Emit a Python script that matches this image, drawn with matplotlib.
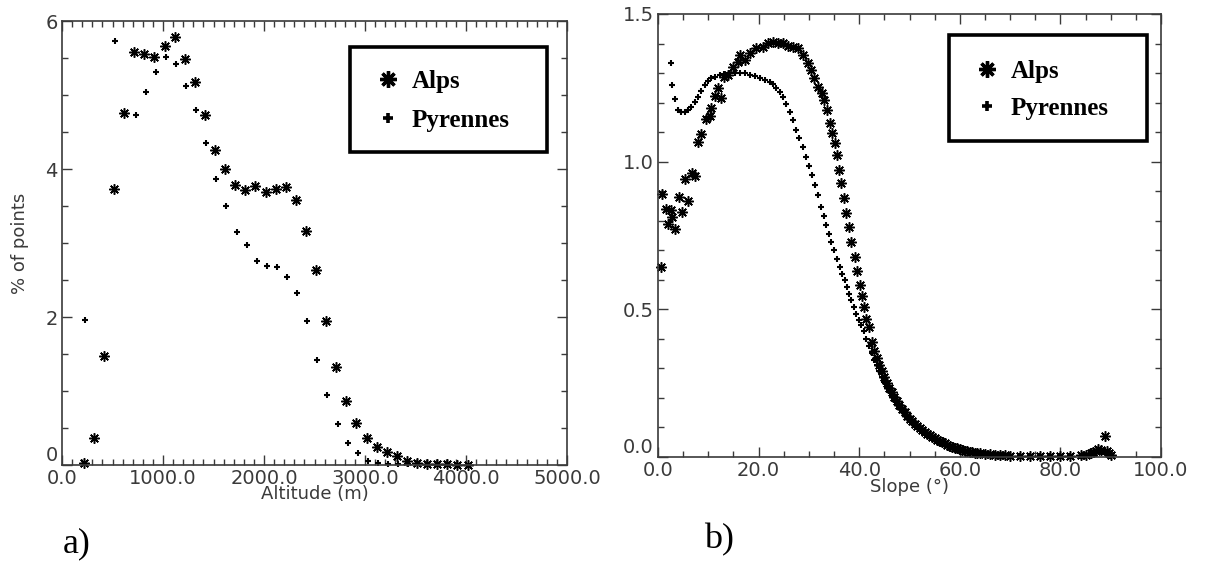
import matplotlib
matplotlib.use("Agg")
import matplotlib.pyplot as plt
from matplotlib.patches import Rectangle
from matplotlib.ticker import MultipleLocator, FormatStrFormatter

# a) altitude distribution (% of points)
alps_alt = [215, 315, 415, 515, 615, 715, 815, 915, 1015, 1115, 1215, 1315, 1415,
            1515, 1615, 1715, 1815, 1915, 2015, 2115, 2215, 2315, 2415, 2515, 2615,
            2715, 2815, 2915, 3015, 3115, 3215, 3315, 3415, 3515, 3615, 3715, 3815,
            3915, 4015]
alps_alt_pct = [0.03, 0.37, 1.48, 3.73, 4.76, 5.58, 5.56, 5.52, 5.66, 5.79, 5.49, 5.17,
                4.73, 4.26, 4.00, 3.79, 3.71, 3.77, 3.69, 3.73, 3.76, 3.58, 3.16, 2.63,
                1.95, 1.33, 0.87, 0.57, 0.37, 0.25, 0.18, 0.12, 0.05, 0.03, 0.02, 0.01,
                0.01, 0.005, 0.003]
pyr_alt = [228, 528, 728, 828, 928, 1028, 1128, 1228, 1328, 1428, 1528, 1628, 1728,
           1828, 1928, 2028, 2128, 2228, 2328, 2428, 2528, 2628, 2728, 2828, 2928,
           3028, 3128, 3228, 3328, 3428]
pyr_alt_pct = [1.96, 5.73, 4.73, 5.04, 5.31, 5.51, 5.42, 5.12, 4.80, 4.35, 3.86, 3.50,
               3.15, 2.98, 2.76, 2.69, 2.67, 2.54, 2.32, 1.94, 1.42, 0.95, 0.55, 0.30,
               0.16, 0.06, 0.03, 0.02, 0.01, 0.01]

# b) slope distribution
alps_slope = [0.66, 0.86, 1.66, 2.0, 2.5, 2.8, 3.3, 4.2, 4.8, 5.3, 6.0, 6.8, 7.3, 7.9,
              8.6, 9.6, 10.3, 10.6, 11.3, 11.9, 12.6, 13.2, 13.9, 14.9, 15.9, 16.2,
              17.2, 18.2, 19.5, 20.9, 21.9, 22.8, 23.8, 24.8, 25.8, 26.8, 27.8, 28.8,
              29.8, 30.5, 31.1, 31.8, 32.5, 33.0, 33.6, 34.2, 34.6, 35.2, 35.6, 36.0,
              36.4, 36.9, 37.4, 37.9, 38.3, 39.1, 39.5, 40.1, 40.6, 40.9, 41.4, 41.9,
              42.5, 43.0, 43.5, 44.0, 44.5, 45.0, 45.5, 46.0, 46.5, 47.0, 47.5, 48.0,
              48.5, 49.0, 49.5, 50.0, 50.5, 51.0, 51.5, 52.0, 52.5, 53.0, 53.5, 54.0,
              54.5, 55.0, 55.5, 56.0, 56.5, 57.0, 57.5, 58.0, 58.5, 59.0, 59.5, 60.0,
              60.5, 61.0, 61.5, 62.0, 62.5, 63.0, 63.5, 64.0, 65, 66, 67, 68, 69, 70,
              72, 74, 76, 78, 80, 82, 84, 85, 86, 86.5, 87, 87.5, 88, 88.8, 89.2,
              89.6, 90]
alps_slope_pct = [0.644, 0.890, 0.841, 0.790, 0.838, 0.813, 0.773, 0.881, 0.830, 0.941,
                  0.866, 0.963, 0.951, 1.067, 1.093, 1.146, 1.154, 1.180, 1.222, 1.248,
                  1.214, 1.288, 1.293, 1.321, 1.338, 1.361, 1.344, 1.367, 1.384, 1.389,
                  1.401, 1.406, 1.403, 1.403, 1.392, 1.387, 1.384, 1.361, 1.333, 1.310,
                  1.282, 1.254, 1.231, 1.208, 1.175, 1.132, 1.098, 1.064, 1.022, 0.973,
                  0.928, 0.877, 0.827, 0.779, 0.728, 0.677, 0.630, 0.581, 0.544, 0.508,
                  0.468, 0.440, 0.390, 0.360, 0.335, 0.312, 0.290, 0.270, 0.252, 0.235,
                  0.219, 0.204, 0.190, 0.176, 0.163, 0.151, 0.140, 0.130, 0.121, 0.113,
                  0.105, 0.098, 0.091, 0.085, 0.079, 0.073, 0.068, 0.063, 0.058, 0.054,
                  0.050, 0.046, 0.042, 0.038, 0.035, 0.032, 0.029, 0.026, 0.024, 0.022,
                  0.020, 0.018, 0.016, 0.015, 0.013, 0.012, 0.010, 0.009, 0.008, 0.007,
                  0.006, 0.005, 0.004, 0.004, 0.004, 0.004, 0.004, 0.005, 0.006, 0.008,
                  0.012, 0.018, 0.022, 0.026, 0.024, 0.070, 0.020, 0.012, 0.006]
pyr_slope = [2.5, 2.8, 3.4, 4.0, 4.6, 5.3, 6.0, 6.6, 7.3, 7.9, 8.6, 9.3, 9.9, 10.6,
             11.3, 12.3, 13.2, 14.2, 15.2, 16.2, 17.2, 18.2, 19.2, 20.2, 21.2, 22.2,
             22.8, 23.5, 24.2, 24.8, 25.5, 26.2, 26.8, 27.5, 28.1, 28.8, 29.5, 30.1,
             30.7, 31.3, 31.8, 32.3, 32.9, 33.4, 34.0, 34.4, 35.0, 35.6, 36.1, 36.6,
             37.1, 37.5, 37.9, 38.4, 38.9, 39.4, 39.9, 40.4, 40.9, 41.4, 42.0, 42.5,
             43.0, 43.5, 44.0, 44.5, 45.0, 45.5, 46.0, 46.5, 47.0, 47.5, 48.0, 48.5,
             49.0, 49.5, 50.0, 50.5, 51.0, 51.5, 52.0, 52.5, 53.0, 53.5, 54.0, 54.5,
             55.0, 55.5, 56.0, 56.5, 57.0, 57.5, 58.0, 58.5, 59.0, 59.5, 60.0, 61, 62,
             63, 64, 65, 66, 67, 68, 70, 72, 74, 76, 78, 80, 82, 84, 86, 87, 88, 88.5,
             89, 89.5, 90]
pyr_slope_pct = [1.333, 1.259, 1.211, 1.175, 1.169, 1.169, 1.175, 1.186, 1.203, 1.220,
                 1.239, 1.259, 1.274, 1.282, 1.288, 1.293, 1.297, 1.299, 1.301, 1.301,
                 1.299, 1.295, 1.291, 1.284, 1.276, 1.271, 1.263, 1.251, 1.237, 1.220,
                 1.195, 1.169, 1.141, 1.107, 1.079, 1.050, 1.016, 0.985, 0.954, 0.920,
                 0.886, 0.847, 0.815, 0.785, 0.756, 0.728, 0.700, 0.672, 0.643, 0.621,
                 0.598, 0.576, 0.553, 0.531, 0.508, 0.485, 0.463, 0.446, 0.425, 0.400,
                 0.375, 0.352, 0.330, 0.310, 0.290, 0.272, 0.255, 0.238, 0.222, 0.207,
                 0.193, 0.180, 0.168, 0.156, 0.145, 0.135, 0.125, 0.116, 0.108, 0.100,
                 0.093, 0.086, 0.080, 0.074, 0.069, 0.064, 0.059, 0.055, 0.051, 0.047,
                 0.043, 0.040, 0.036, 0.033, 0.030, 0.028, 0.025, 0.021, 0.017, 0.014,
                 0.011, 0.009, 0.008, 0.007, 0.006, 0.005, 0.004, 0.003, 0.003, 0.003,
                 0.003, 0.004, 0.005, 0.009, 0.015, 0.020, 0.018, 0.012, 0.008, 0.004]

INK = "#3a3a3a"
STAR = (8, 2, 0)


def style_axes(ax, xmaj, xmin, ymaj, ymin, xfmt, yfmt):
    for s in ax.spines.values():
        s.set_color(INK)
        s.set_linewidth(1.2)
    ax.xaxis.set_major_locator(MultipleLocator(xmaj))
    ax.xaxis.set_minor_locator(MultipleLocator(xmin))
    ax.yaxis.set_major_locator(MultipleLocator(ymaj))
    ax.yaxis.set_minor_locator(MultipleLocator(ymin))
    ax.xaxis.set_major_formatter(FormatStrFormatter(xfmt))
    ax.yaxis.set_major_formatter(FormatStrFormatter(yfmt))
    ax.tick_params(which="both", direction="in", top=True, right=True,
                   color=INK, width=1.0, labelcolor=INK, labelsize=14)
    ax.tick_params(which="major", length=7, pad=3)
    ax.tick_params(which="minor", length=4)


def lift_zero_label(ax):
    # the "0" on the y axis sits just above the corner, like the original
    for t in ax.yaxis.get_major_ticks():
        if abs(t.get_loc()) < 1e-9:
            t.label1.set_verticalalignment("bottom")


def add_legend(ax, box, anchor, spacing):
    x0, y0, w, h = box
    ax.add_patch(Rectangle((x0, y0), w, h, transform=ax.transAxes, fill=False,
                           lw=2.6, ec="black", zorder=6, clip_on=False))
    leg = ax.legend(loc="upper left", bbox_to_anchor=anchor, frameon=False,
                    prop={"family": "Liberation Serif", "weight": "bold", "size": 18},
                    borderpad=0, borderaxespad=0, handlelength=1.0,
                    handletextpad=0.45, labelspacing=spacing, numpoints=1)
    hs = leg.legend_handles
    hs[0].set_markersize(12)
    hs[0].set_markeredgewidth(2.4)
    hs[1].set_markersize(6.5)
    hs[1].set_markeredgewidth(2.6)


fig = plt.figure(figsize=(12.07, 5.64), dpi=100)
ax1 = fig.add_axes([0.0514, 0.1755, 0.4184, 0.7872])
ax2 = fig.add_axes([0.5452, 0.1897, 0.4167, 0.7855])

ax1.plot(alps_alt, alps_alt_pct, ls="none", marker=STAR, ms=7.5, mew=1.1,
         color="black", clip_on=False, label="Alps")
ax1.plot(pyr_alt, pyr_alt_pct, ls="none", marker="+", ms=4, mew=1.5,
         color="black", clip_on=False, label="Pyrennes")
ax1.set_xlim(0, 5000)
ax1.set_ylim(0, 6)
style_axes(ax1, 1000, 100, 2, 0.5, "%.1f", "%d")
ax1.set_xlabel("Altitude (m)", fontsize=13, color=INK)
ax1.xaxis.set_label_coords(0.5, -0.046)
ax1.set_ylabel("% of points", fontsize=13, color=INK)
ax1.yaxis.set_label_coords(-0.066, 0.5)
add_legend(ax1, (0.570, 0.706, 0.390, 0.236), (0.621, 0.89), 0.65)

ax2.plot(alps_slope, alps_slope_pct, ls="none", marker=STAR, ms=7.5, mew=1.1,
         color="black", clip_on=False, label="Alps")
ax2.plot(pyr_slope, pyr_slope_pct, ls="none", marker="+", ms=4, mew=1.5,
         color="black", clip_on=False, label="Pyrennes")
ax2.set_xlim(0, 100)
ax2.set_ylim(0, 1.5)
style_axes(ax2, 20, 5, 0.5, 0.1, "%.1f", "%.1f")
ax2.set_xlabel("Slope (°)", fontsize=13, color=INK)
ax2.xaxis.set_label_coords(0.5, -0.047)
add_legend(ax2, (0.579, 0.713, 0.393, 0.240), (0.629, 0.896), 0.55)

fig.text(63 / 1207, 1 - 552 / 564, "a)", family="Liberation Serif", fontsize=26,
         va="baseline", ha="left")
fig.text(704 / 1207, 1 - 548 / 564, "b)", family="Liberation Serif", fontsize=26,
         va="baseline", ha="left")

fig.canvas.draw()
lift_zero_label(ax1)
lift_zero_label(ax2)

fig.savefig("out.png", dpi=100, facecolor="white")
